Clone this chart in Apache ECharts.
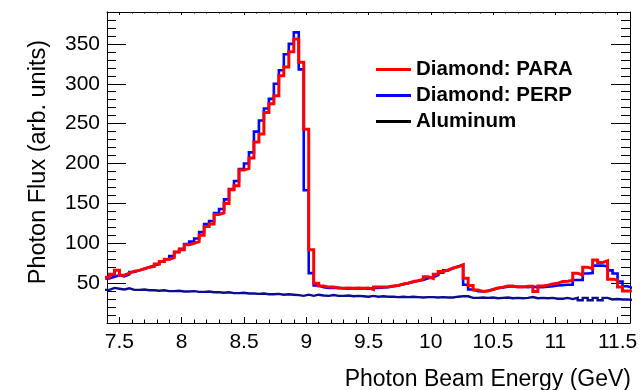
<!DOCTYPE html>
<html>
<head>
<meta charset="utf-8">
<script src="https://cdn.jsdelivr.net/npm/echarts@6/dist/echarts.min.js"></script>
<style>
  html, body { margin: 0; padding: 0; background: #ffffff; }
  #chart { width: 644px; height: 390px; }
</style>
</head>
<body>
<div id="chart"></div>
<script>
// Histogram binning (GeV): fixed-width bins starting at binLow
const binLow = 7.38;
const binWidth = 0.04;

// Photon flux per bin (arb. units)
const paraFlux = [
  57.5, 61, 66, 60, 62.5, 65, 66, 68, 70, 71,
  74, 77, 80, 82, 89, 92, 98, 100, 102, 110,
  121, 124, 136, 138, 150, 167, 172, 192, 194, 207,
  227, 237, 264, 275, 285, 310, 321, 340, 356, 327,
  243, 92, 50, 46.5, 45, 45, 44, 43.5, 44, 43.5,
  44, 43.5, 44, 42, 45, 45, 45.5, 46.5, 47, 49,
  50, 52, 53, 55, 58, 56, 61, 64.5, 66.5, 69,
  70.5, 73, 56, 47, 41.5, 39.5, 40, 42, 44, 45,
  46.5, 46.5, 45, 45, 46, 46, 39.5, 46.5, 47.5, 49,
  50, 52, 52.5, 53.5, 62.5, 60, 70, 68, 79, 76,
  78, 55, 54, 45, 40, 40
];

const perpFlux = [
  56, 58, 60, 58.5, 61, 64, 66, 68, 70, 72,
  74, 77, 80, 84, 89, 93, 99, 102, 106, 114,
  124, 128, 138, 143, 155, 168, 178, 193, 200, 214,
  240, 254, 269, 281, 300, 317, 337, 350, 364.5, 318,
  166.5, 62.5, 47, 45, 44, 44, 44, 43.5, 43, 43.5,
  43, 43.5, 43, 44, 44, 44.5, 45, 46, 47, 48.5,
  50, 51.5, 53, 54, 56, 57.5, 60, 63, 66, 68.5,
  71, 73, 48, 42, 40, 39.5, 40.5, 42, 43.5, 44.5,
  45.5, 46, 45.5, 45.5, 45, 45.5, 45, 45, 45.5, 46,
  47, 47.5, 48, 48, 54, 54, 62, 62.5, 72, 72,
  71, 66, 62, 52, 46, 44
];

const aluminumFlux = [
  41.5, 44, 43, 42, 43.5, 41.5, 41.5, 42, 41, 41,
  40.5, 41, 40, 40, 40.5, 39.5, 39.5, 40, 39, 39,
  39.5, 38.5, 38.5, 38, 38.5, 37.5, 37.5, 38, 37, 37,
  36.5, 37, 36, 36, 36.5, 35.5, 36, 35.5, 35, 34,
  35.5, 34, 35.5, 34.5, 34, 35, 34, 34, 34.5, 33.5,
  34, 33.5, 33, 34, 33, 33.5, 33, 33, 32.5, 33,
  32.5, 33, 32.5, 32, 32.5, 32.5, 32, 32.5, 32, 32,
  33, 33.5, 33.5, 31.5, 31.5, 32, 31.5, 32, 31, 31.5,
  32, 31, 31.5, 31, 31.5, 32.5, 31, 31.5, 31, 31.5,
  30.5, 30.5, 31.5, 30, 31.5, 28.5, 31.5, 28.5, 31.5, 28.5,
  31.5, 29.5, 30, 29.5, 29.5, 29
];

const seriesNames = ['Diamond: PARA', 'Diamond: PERP', 'Aluminum'];
const xRange = [7.4, 11.6];
const yRange = [0, 390];
const xTitle = 'Photon Beam Energy (GeV)';
const yTitle = 'Photon Flux (arb. units)';

const FONT = '"Liberation Sans", Arial, Helvetica, sans-serif';

// Turn per-bin contents into step-line vertices: [lowEdge, content], plus closing upper edge
function histogramPoints(values) {
  const pts = values.map((v, i) => [+(binLow + i * binWidth).toFixed(4), v]);
  pts.push([+(binLow + values.length * binWidth).toFixed(4), values[values.length - 1]]);
  return pts;
}

const frameLine = { show: true, onZero: false, lineStyle: { color: '#000', width: 1 } };
const noLine = { show: false, onZero: false };

function xAxisDef(position, major, tickLen, showLabels, showLine) {
  const ax = {
    type: 'value', position: position, min: xRange[0], max: xRange[1],
    axisLine: showLine ? frameLine : noLine,
    axisTick: { show: true, inside: true, length: tickLen, lineStyle: { color: '#000', width: 1 } },
    axisLabel: showLabels ? {
      show: true, color: '#000', fontFamily: FONT, fontSize: 21, margin: 9,
      showMinLabel: false, showMaxLabel: false
    } : { show: false },
    splitLine: { show: false }
  };
  if (major) { ax.minInterval = 0.5; ax.maxInterval = 0.5; } else { ax.interval = 0.1; }
  return ax;
}

function yAxisDef(position, step, tickLen, showLabels, showLine) {
  return {
    type: 'value', position: position, min: yRange[0], max: yRange[1], interval: step,
    axisLine: showLine ? frameLine : noLine,
    axisTick: { show: true, inside: true, length: tickLen, lineStyle: { color: '#000', width: 1 } },
    axisLabel: showLabels ? {
      show: true, color: '#000', fontFamily: FONT, fontSize: 21, margin: 7,
      showMinLabel: false, showMaxLabel: false
    } : { show: false },
    splitLine: { show: false }
  };
}

function histSeries(name, values, color, width, z) {
  return {
    name: name, type: 'line', step: 'end', data: histogramPoints(values),
    xAxisIndex: 0, yAxisIndex: 0, symbol: 'none', clip: true, z: z,
    lineStyle: { color: color, width: width, join: 'miter' },
    itemStyle: { color: color },
    emphasis: { disabled: true }
  };
}

const chart = echarts.init(document.getElementById('chart'), null, { renderer: 'canvas' });

chart.setOption({
  animation: false,
  backgroundColor: '#ffffff',
  grid: { left: 107, right: 14, top: 12, bottom: 67, containLabel: false, outerBoundsMode: 'none' },
  xAxis: [
    xAxisDef('bottom', true, 6, true, true),
    xAxisDef('bottom', false, 3.5, false, false),
    xAxisDef('top', true, 3, false, true),
    xAxisDef('top', false, 1.5, false, false)
  ],
  yAxis: [
    yAxisDef('left', 50, 19, true, true),
    yAxisDef('left', 10, 9, false, false),
    yAxisDef('right', 50, 19, false, true),
    yAxisDef('right', 10, 9, false, false)
  ],
  legend: {
    orient: 'vertical', left: 376, top: 59, padding: 0,
    icon: 'rect', itemWidth: 35, itemHeight: 3, itemGap: 5,
    selectedMode: false,
    textStyle: { fontFamily: FONT, fontSize: 20.5, fontWeight: 'bold', color: '#000', lineHeight: 20.3 },
    data: [
      { name: seriesNames[0], itemStyle: { color: '#ff0000' } },
      { name: seriesNames[1], itemStyle: { color: '#0000ff' } },
      { name: seriesNames[2], itemStyle: { color: '#000000' } }
    ]
  },
  graphic: [
    {
      type: 'text', right: 13, top: 368, silent: true,
      style: { text: xTitle, font: '23px ' + FONT, fill: '#000' }
    },
    {
      type: 'text', x: 39, y: 40, rotation: Math.PI / 2, silent: true,
      style: { text: yTitle, font: '23.5px ' + FONT, fill: '#000', align: 'right', verticalAlign: 'middle' }
    }
  ],
  series: [
    histSeries(seriesNames[0], paraFlux, '#ff0000', 3, 5),
    histSeries(seriesNames[1], perpFlux, '#0000ff', 2.6, 4),
    histSeries(seriesNames[2], aluminumFlux, '#0c0c8e', 2.4, 3)
  ]
});
</script>
</body>
</html>
